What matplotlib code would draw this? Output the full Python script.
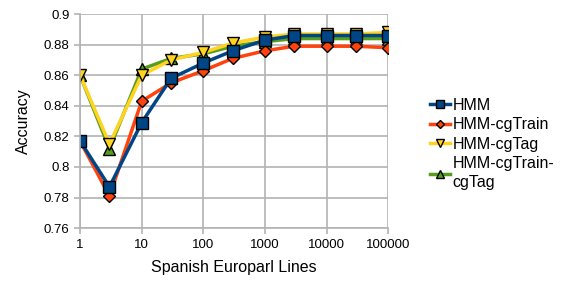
import matplotlib
matplotlib.use("Agg")
import matplotlib.pyplot as plt

plt.rcParams['font.family'] = ['Liberation Sans', 'DejaVu Sans']

lines = [1, 3, 10, 30, 100, 300, 1000, 3000, 10000, 30000, 100000]
hmm = [0.817, 0.787, 0.829, 0.858, 0.868, 0.876, 0.883, 0.886, 0.886, 0.886, 0.886]
hmm_cgtrain = [0.817, 0.781, 0.843, 0.855, 0.863, 0.871, 0.876, 0.879, 0.879, 0.879, 0.878]
hmm_cgtag = [0.860, 0.815, 0.860, 0.870, 0.875, 0.881, 0.885, 0.887, 0.887, 0.887, 0.888]
hmm_cgtrain_cgtag = [0.860, 0.812, 0.864, 0.871, 0.874, 0.879, 0.882, 0.884, 0.884, 0.884, 0.884]

series = [
    ("HMM", hmm, '#004586', 's', 8),
    ("HMM-cgTrain", hmm_cgtrain, '#ff420e', 'D', 6),
    ("HMM-cgTag", hmm_cgtag, '#ffd320', 'v', 8),
    ("HMM-cgTrain-\ncgTag", hmm_cgtrain_cgtag, '#579d1c', '^', 8),
]

fig = plt.figure(figsize=(5.76, 2.88), dpi=100)
ax = fig.add_axes([0.139, 0.208, 0.535, 0.743])

# draw in reverse so HMM ends up on top
for name, vals, col, mk, ms in reversed(series):
    ax.plot(lines, vals, color=col, lw=2.5, marker=mk, markersize=ms,
            markerfacecolor=col, markeredgecolor='black', markeredgewidth=1,
            label=name)

ax.set_xscale('log')
ax.set_xlim(1, 100000)
ax.set_ylim(0.76, 0.9)
ax.set_xticks([1, 10, 100, 1000, 10000, 100000])
ax.set_xticklabels(['1', '10', '100', '1000', '10000', '100000'])
ax.minorticks_off()
ax.set_yticks([0.76, 0.78, 0.8, 0.82, 0.84, 0.86, 0.88, 0.9])
ax.set_yticklabels(['0.76', '0.78', '0.8', '0.82', '0.84', '0.86', '0.88', '0.9'])

ax.grid(True, color='#b3b3b3', lw=1.2)
ax.set_axisbelow(True)
for s in ['top', 'right']:
    ax.spines[s].set_visible(False)
for s in ['left', 'bottom']:
    ax.spines[s].set_color('#b3b3b3')
    ax.spines[s].set_linewidth(1.2)
ax.tick_params(colors='#b3b3b3', labelcolor='black', labelsize=9.5, length=4, width=1.2)

ax.set_xlabel("Spanish Europarl Lines", fontsize=11.5, labelpad=7)
ax.set_ylabel("Accuracy", fontsize=11.5, labelpad=9)

h, l = ax.get_legend_handles_labels()
leg = ax.legend(h[::-1], l[::-1], loc='center left', bbox_to_anchor=(430 / 576, 0.500),
                bbox_transform=fig.transFigure, frameon=False, fontsize=11.5,
                handlelength=1.25, handletextpad=0.15, labelspacing=0.28,
                borderpad=0, borderaxespad=0, markerscale=0.75)
for t in leg.get_texts():
    t.set_linespacing(1.3)

fig.savefig("out.png", dpi=100)
